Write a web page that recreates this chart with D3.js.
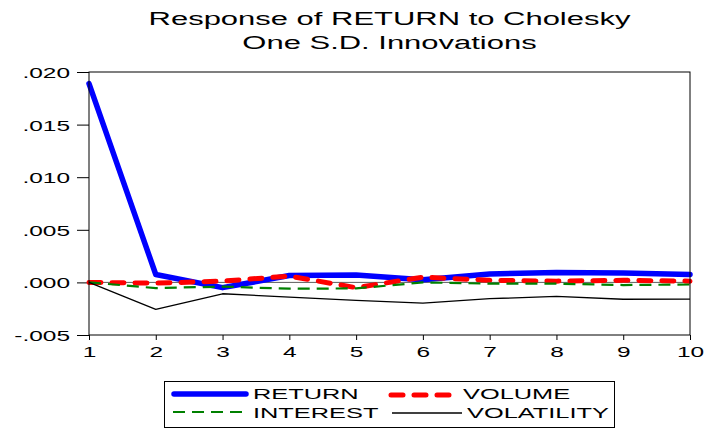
<!DOCTYPE html>
<html>
<head>
<meta charset="utf-8">
<script src="https://cdn.jsdelivr.net/npm/d3@7"></script>
<style>
  html, body { margin: 0; padding: 0; background: #fff; }
  #chart { width: 708px; height: 431px; }
</style>
</head>
<body>
<div id="chart"></div>
<script>
var periods = [1, 2, 3, 4, 5, 6, 7, 8, 9, 10];
var yTicks = [-0.005, 0.000, 0.005, 0.010, 0.015, 0.020];
var titleLines = ['Response of RETURN to Cholesky', 'One S.D. Innovations'];
var seriesNames = ['RETURN', 'VOLUME', 'INTEREST', 'VOLATILITY'];
var returnVals = [0.0189, 0.00075, -0.0005, 0.00065, 0.0007, 0.00025, 0.0008, 0.00095, 0.0009, 0.00075];
var volumeVals = [0.0000, -0.00007, 0.00012, 0.0006, -0.0005, 0.0005, 0.0002, 0.00012, 0.0002, 0.00012];
var interestVals = [0.0000, -0.00054, -0.0004, -0.0006, -0.00057, 0.0000, -0.00012, -0.00012, -0.00025, -0.0002];
var volatilityVals = [0.0000, -0.00257, -0.00108, -0.0014, -0.0017, -0.00197, -0.00155, -0.00133, -0.0016, -0.00159];

(function() {
  var FONT = '"Liberation Sans", Arial, sans-serif';
  var SX = 1.63; // the original picture is stretched horizontally
  var w = 708, h = 431;
  var left = 89, right = 690, top = 72, bottom = 335;

  var svg = d3.select('#chart').append('svg').attr('width', w).attr('height', h);

  var x = d3.scaleLinear().domain([1, 10]).range([left, right]);
  var y = d3.scaleLinear().domain([-0.005, 0.020]).range([bottom, top]);

  var styles = {
    RETURN:     { color: '#0000ff', width: 5.5, dash: null,    cap: 'round' },
    VOLUME:     { color: '#ff0000', width: 5,   dash: '12,11', cap: 'round' },
    INTEREST:   { color: '#008000', width: 2.2, dash: '12,7',  cap: 'butt' },
    VOLATILITY: { color: '#000000', width: 1.3, dash: null,    cap: 'butt' }
  };
  var values = { RETURN: returnVals, VOLUME: volumeVals, INTEREST: interestVals, VOLATILITY: volatilityVals };

  function stext(sel, tx, ty, str, size, anchor, sx) {
    return sel.append('text')
      .attr('transform', 'translate(' + tx + ',' + ty + ') scale(' + (sx || SX) + ',1)')
      .attr('text-anchor', anchor || 'start')
      .attr('font-family', FONT).attr('font-size', size + 'px').attr('fill', '#000')
      .text(str);
  }

  // Title
  stext(svg, (left + right) / 2, 25, titleLines[0], 19, 'middle');
  stext(svg, (left + right) / 2, 49, titleLines[1], 19, 'middle');

  var fmt = function(d) {
    var s = d3.format('.3f')(Math.abs(d)).replace(/^0/, '');
    return (d < 0 ? '-' : '') + s;
  };

  // Y axis
  svg.append('g').attr('transform', 'translate(' + left + ',0)')
    .call(d3.axisLeft(y).tickValues(yTicks).tickSize(12).tickSizeOuter(0).tickFormat(fmt))
    .call(function(g) { g.select('.domain').remove(); })
    .call(function(g) { g.selectAll('.tick line').attr('stroke', '#000').attr('stroke-width', 1); })
    .call(function(g) {
      g.selectAll('.tick text').attr('x', 0).attr('dy', null)
        .attr('transform', 'translate(-19,5.5) scale(' + SX + ',1)')
        .attr('fill', '#000').attr('font-size', '15px').attr('font-family', FONT);
    });

  // X axis
  svg.append('g').attr('transform', 'translate(0,' + bottom + ')')
    .call(d3.axisBottom(x).tickValues(periods).tickSize(5).tickSizeOuter(0).tickFormat(d3.format('d')))
    .call(function(g) { g.select('.domain').remove(); })
    .call(function(g) { g.selectAll('.tick line').attr('stroke', '#000').attr('stroke-width', 1); })
    .call(function(g) {
      g.selectAll('.tick text').attr('y', 0).attr('dy', null)
        .attr('transform', 'translate(0,22) scale(' + SX + ',1)')
        .attr('fill', '#000').attr('font-size', '15px').attr('font-family', FONT);
    });

  // Zero line
  svg.append('line').attr('x1', left).attr('x2', right).attr('y1', y(0)).attr('y2', y(0))
    .attr('stroke', '#333').attr('stroke-width', 0.8);

  // Series
  var line = d3.line().x(function(d, i) { return x(periods[i]); }).y(function(d) { return y(d); });
  seriesNames.forEach(function(name) {
    var st = styles[name];
    svg.append('path').datum(values[name]).attr('d', line)
      .attr('fill', 'none').attr('stroke', st.color).attr('stroke-width', st.width)
      .attr('stroke-dasharray', st.dash).attr('stroke-linecap', st.cap).attr('stroke-linejoin', 'round');
  });

  // Frame
  svg.append('rect').attr('x', left).attr('y', top).attr('width', right - left).attr('height', bottom - top)
    .attr('fill', 'none').attr('stroke', '#000').attr('stroke-width', 1);

  // Legend
  var lg = svg.append('g');
  lg.append('rect').attr('x', 164.5).attr('y', 381.5).attr('width', 450).attr('height', 46)
    .attr('fill', 'none').attr('stroke', '#000').attr('stroke-width', 1);
  var slots = [
    { x1: 174, x2: 246, tx: 253, ty: 399, ly: 394 },
    { x1: 391, x2: 453, tx: 463, ty: 399, ly: 395 },
    { x1: 173, x2: 246, tx: 253, ty: 418, ly: 412 },
    { x1: 392, x2: 462, tx: 467, ty: 418, ly: 413 }
  ];
  seriesNames.forEach(function(name, i) {
    var st = styles[name], s = slots[i];
    lg.append('line').attr('x1', s.x1).attr('x2', s.x2).attr('y1', s.ly).attr('y2', s.ly)
      .attr('stroke', st.color).attr('stroke-width', st.width)
      .attr('stroke-dasharray', st.dash).attr('stroke-linecap', st.cap);
    stext(lg, s.tx, s.ty, name, 14.5, 'start', 1.75);
  });
})();
</script>
</body>
</html>
